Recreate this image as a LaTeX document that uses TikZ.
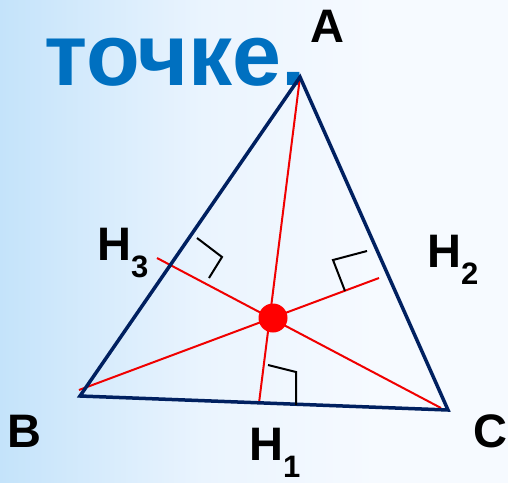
\documentclass[tikz,border=0pt]{standalone}
\usepackage{fontspec}
\setmainfont{Liberation Sans}
\usetikzlibrary{positioning}
\definecolor{trinavy}{RGB}{0,32,96}
\definecolor{altred}{RGB}{240,0,0}
\definecolor{titleblue}{RGB}{0,112,192}
\definecolor{bgleft}{RGB}{196,227,250}
\definecolor{bgmid}{RGB}{234,244,254}
\definecolor{bgright}{RGB}{246,250,255}
\pgfdeclarehorizontalshading{bgshade}{100bp}{color(0bp)=(bgleft); color(25bp)=(bgleft); color(45bp)=(bgmid); color(62bp)=(bgright); color(100bp)=(bgright)}

\newcommand{\footlabel}[1]{H\raisebox{-17pt}{\fontsize{31}{31}\selectfont #1}}

\begin{document}
\begin{tikzpicture}[x=1pt, y=-1pt,
    side/.style={draw=trinavy, line width=3.5pt, line join=miter},
    altitude/.style={draw=altred, line width=2pt},
    rightmark/.style={draw=black, line width=2pt},
    vlabel/.style={font=\fontsize{47}{47}\selectfont\bfseries, anchor=base west, inner sep=0pt}]
  \shade[shading=bgshade] (0,0) rectangle (508,482);
  \useasboundingbox (0,0) rectangle (508,482);
  % title
  \node[font=\fontsize{88}{88}\selectfont\bfseries, text=titleblue, anchor=base west, inner sep=0pt] (title) at (44,85) {точке.};
  % vertices and feet
  \coordinate (A) at (300,77);
  \coordinate (B) at (80,396);
  \coordinate (C) at (448,410);
  \coordinate (H1) at (259,403);
  \coordinate (H2) at (379,278);
  \coordinate (H3) at (157,258);
  % altitudes
  \draw[altitude] (A) -- (H1);
  \draw[altitude] ([shift={(-1,-6)}]B) -- (H2);
  \draw[altitude] ([shift={(-7,-2)}]C) -- (H3);
  \draw[side] (A) -- (B) -- (C) -- cycle;
  \node[circle, fill=red, minimum size=29pt, inner sep=0pt] (O) at (273,318) {};
  % right angles
  \draw[rightmark] (268,365) -- (296,372) -- (296,405);
  \draw[rightmark] (197,238) -- (222,257) -- (209,278);
  \draw[rightmark] (367,251) -- (333,260) -- (345,291);
  % labels
  \node[vlabel] (la) at (310,42) {A};
  \node[vlabel] (lb) at (7,447) {B};
  \node[vlabel] (lc) at (473,447) {C};
  \node[vlabel] (lh1) at (249,460) {\footlabel{1}};
  \node[vlabel] (lh2) at (427,267) {\footlabel{2}};
  \node[vlabel] (lh3) at (97,260) {\footlabel{3}};
\end{tikzpicture}
\end{document}
